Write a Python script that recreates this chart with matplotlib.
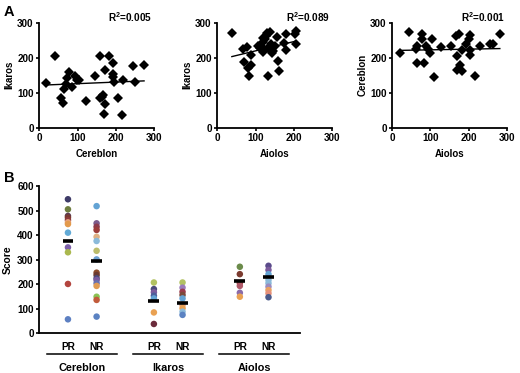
import numpy as np
import matplotlib
matplotlib.use("Agg")
import matplotlib.pyplot as plt
from matplotlib.transforms import blended_transform_factory

plt.rcParams['font.family'] = ['Liberation Sans', 'DejaVu Sans']
plt.rcParams['font.weight'] = 'bold'
plt.rcParams['mathtext.fontset'] = 'custom'
plt.rcParams['mathtext.bf'] = 'Liberation Sans:bold'
plt.rcParams['mathtext.rm'] = 'Liberation Sans:bold'

# ---- panel A data ----
cer_x = [17, 41, 58, 61, 65, 70, 73, 78, 86, 93, 98, 105, 121, 146, 159, 182,
         173, 159, 163, 167, 172, 169, 194, 192, 194, 196, 207, 217, 220, 244, 250, 274]
ika_y1 = [129, 206, 84, 72, 110, 124, 141, 160, 117, 148, 136, 136, 77, 149, 205, 206,
          165, 84, 89, 93, 68, 39, 184, 155, 146, 131, 86, 36, 136, 177, 131, 179]

aio_x2 = [38, 66, 77, 70, 79, 83, 87, 89, 107, 111, 120, 129, 137, 133, 145, 133, 151,
          155, 159, 160, 174, 179, 180, 203, 204, 204, 120, 118, 125, 128, 140, 142, 122, 112]
ika_y2 = [271, 225, 230, 188, 171, 149, 207, 180, 233, 229, 257, 271, 273, 229, 220, 149, 233,
          259, 190, 163, 242, 268, 223, 268, 278, 240, 218, 245, 255, 262, 240, 215, 225, 235]

aio_x3 = [20, 45, 62, 66, 66, 77, 77, 84, 88, 94, 99, 103, 110, 128, 153, 167, 176, 169,
          169, 178, 182, 182, 193, 202, 203, 203, 203, 217, 230, 256, 263, 282]
cer_y3 = [214, 273, 225, 233, 185, 268, 255, 185, 235, 225, 214, 255, 144, 230, 233, 262, 268, 206,
          166, 180, 161, 223, 240, 255, 266, 223, 209, 149, 233, 241, 240, 268]

r2_text = ["0.005", "0.089", "0.001"]

# ---- panel B data ----
groups = ["Cereblon", "Ikaros", "Aiolos"]
sub_labels = ["PR", "NR", "PR", "NR", "PR", "NR"]
scores = [
    [546, 505, 478, 471, 461, 452, 445, 410, 350, 330, 201, 57],
    [518, 448, 434, 421, 393, 376, 336, 301, 247, 237, 224, 217, 204, 193, 149, 136, 68],
    [207, 180, 167, 153, 142, 85, 38],
    [207, 186, 169, 156, 142, 115, 102, 88, 75],
    [271, 241, 204, 193, 165, 149],
    [275, 258, 241, 217, 204, 190, 176, 163, 147],
]
medians = [377, 293, 133, 125, 214, 228]

dot_colors = [
    ["#3e3b68", "#6e7d3f", "#5c3a50", "#7b3a30", "#8d3a3c", "#e6a27a", "#e39a4c",
     "#62aad6", "#7d60aa", "#aab84e", "#b3453f", "#5d80c2"],
    ["#63a3d4", "#7b5b8c", "#8c3b4c", "#9c3c3a", "#dfb184", "#8bbada", "#bcbd6c", "#6ba0d2",
     "#8c4b2c", "#6a3a30", "#4b4a7c", "#7a5a9e", "#6670b0", "#e09b52", "#8bc254", "#c25b3b", "#5b82c2"],
    ["#b2c262", "#4b4a7c", "#7b5b9c", "#4d5f9a", "#63a3d4", "#e9a152", "#6b2b3b"],
    ["#b2c262", "#9b7bba", "#9b3b4b", "#7b4b3b", "#63a3d4", "#e6a27a", "#e9a152", "#8bbada", "#5b82c2"],
    ["#6b8b4b", "#7b3b2f", "#a04a4a", "#b05a6a", "#8b6ba9", "#e9a152"],
    ["#5b4b8b", "#7b5b9c", "#63a3d4", "#8bbada", "#8bbada", "#9b8bc0", "#e9a162", "#e6907a", "#4b5a8a"],
]
positions = [0, 1, 3, 4, 6, 7]

W, H = 520, 373
fig = plt.figure(figsize=(W / 100, H / 100), dpi=100)


def px_axes(x0, x1, ytop, ybot):
    return fig.add_axes([x0 / W, 1 - ybot / H, (x1 - x0) / W, (ybot - ytop) / H])


def style_axes(ax):
    for s in ['top', 'right']:
        ax.spines[s].set_visible(False)
    for s in ['left', 'bottom']:
        ax.spines[s].set_linewidth(1.3)
    ax.tick_params(direction='out', length=2.5, width=1.2, labelsize=7.1, pad=1.5)


scatter_sets = [
    (cer_x, ika_y1, "Cereblon", "Ikaros", (39.3, 154.0)),
    (aio_x2, ika_y2, "Aiolos", "Ikaros", (217.3, 332.3)),
    (aio_x3, cer_y3, "Aiolos", "Cereblon", (392.3, 506.7)),
]

for i, (xs, ys, xl, yl, (x0, x1)) in enumerate(scatter_sets):
    ax = px_axes(x0, x1, 22.9, 127.7)
    style_axes(ax)
    xs = np.array(xs, float)
    ys = np.array(ys, float)
    ax.plot(xs, ys, 'D', color='black', ms=4.8, mew=0)
    k, b = np.polyfit(xs, ys, 1)
    xx = np.array([xs.min(), xs.max()])
    ax.plot(xx, k * xx + b, color='black', lw=1.0)
    ax.set_xlim(0, 300)
    ax.set_ylim(0, 300)
    ax.set_xticks([0, 100, 200, 300])
    ax.set_yticks([0, 100, 200, 300])
    ax.set_xlabel(xl, fontsize=7.0, fontweight='bold', labelpad=4)
    ax.set_ylabel(yl, fontsize=7.0, fontweight='bold', labelpad=2)
    ax.text(0.6, 1.06, "R$^{2}$=" + r2_text[i], transform=ax.transAxes,
            fontsize=7.2, fontweight='bold', va='center', ha='left')

fig.text(4 / W, 1 - 12 / H, "A", fontsize=10.5, fontweight='bold', va='center', ha='left')
fig.text(4 / W, 1 - 178 / H, "B", fontsize=10.5, fontweight='bold', va='center', ha='left')

# ---- panel B ----
axb = px_axes(39.3, 300.0, 186.0, 333.3)
style_axes(axb)
for p, vals, cols, med in zip(positions, scores, dot_colors, medians):
    axb.scatter([p] * len(vals), vals, s=22, c=cols, edgecolors='none', zorder=2)
    axb.plot([p - 0.19, p + 0.19], [med, med], color='black', lw=2.6, zorder=3,
             solid_capstyle='butt')
axb.set_xlim(-1.0, 8.1)
axb.set_ylim(0, 600)
axb.set_yticks(range(0, 601, 100))
axb.set_xticks(positions)
axb.set_xticklabels(sub_labels, fontsize=7.3, fontweight='bold')
axb.tick_params(axis='x', length=0, pad=6)
axb.set_ylabel("Score", fontsize=7.4, fontweight='bold', labelpad=3)

tr = blended_transform_factory(axb.transData, axb.transAxes)
for g, name in enumerate(groups):
    p0 = positions[2 * g]
    p1 = positions[2 * g + 1]
    axb.plot([p0 - 0.72, p1 + 0.72], [-0.14, -0.14], color='black', lw=1.1,
             transform=tr, clip_on=False)
    axb.text((p0 + p1) / 2, -0.235, name, transform=tr, ha='center', va='center',
             fontsize=7.8, fontweight='bold')

fig.savefig("out.png", dpi=100)
